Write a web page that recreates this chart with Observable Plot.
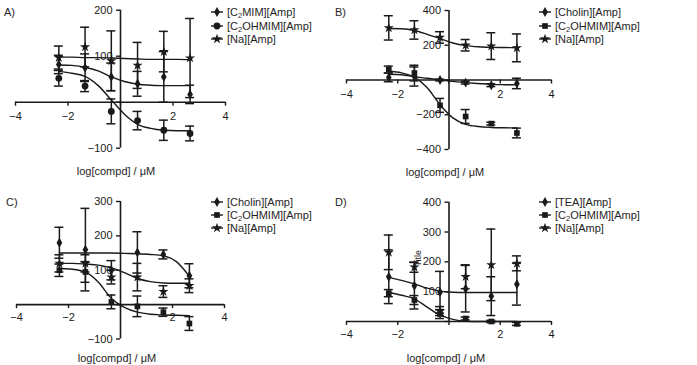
<!DOCTYPE html>
<html>
<head>
<meta charset="utf-8">
<script src="https://cdn.jsdelivr.net/npm/d3@7"></script>
<script src="https://cdn.jsdelivr.net/npm/@observablehq/plot@0.6"></script>
<style>
  html, body { margin: 0; padding: 0; background: #fff; }
  #fig { position: relative; width: 697px; height: 365px; overflow: hidden; background: #fff;
         font-family: "Liberation Sans", Arial, sans-serif; color: #1e1e1e; }
  .abs { position: absolute; white-space: nowrap; font-size: 11px; line-height: 13px; }
  .abs sub { font-size: 7.5px; line-height: 0; vertical-align: -2px; }
  svg.panel { position: absolute; overflow: visible; }
</style>
</head>
<body>
<div id="fig"></div>
<script>
// Log concentrations of the tested doses and of the points along each fitted curve
const doses = [-2.35, -1.35, -0.35, 0.65, 1.65, 2.65];
const fitX = [-2.35, -1.85, -1.35, -0.85, -0.35, 0.15, 0.65, 1.15, 1.65, 2.15, 2.65];

// Axis ticks
const xTicks = [-4, -2, 0, 2, 4];
const xTickLabels = [-4, -2, 2, 4];
const xTitle = "log[compd] / μM";

// Panel A
const namesA = ["[C2MIM][Amp]", "[C2OHMIM][Amp]", "[Na][Amp]"];
const meanA = [
  [82, 75, 55, 40, 55, 17],
  [52, 35, -20, -40, -61, -68],
  [97, 120, 90, 80, 110, 96]
];
const errA = [
  [20, 30, 30, 27, 55, 20],
  [17, 12, 27, 20, 22, 16],
  [25, 43, 65, 50, 44, 86]
];
const fitA = [
  [81, 80, 76, 68, 55, 45, 39, 37, 36, 36, 36],
  [67, 63, 56, 36, 5, -26, -48, -57, -61, -62, -62],
  [98, 98, 97, 97, 96, 95, 94, 93, 93, 93, 92]
];
const yTicksA = [-100, 0, 100, 200];
const yLabelsA = [-100, 100, 200];

// Panel B
const namesB = ["[Cholin][Amp]", "[C2OHMIM][Amp]", "[Na][Amp]"];
const meanB = [
  [15, 20, 0, -15, -30, -20],
  [60, 40, -146, -210, -251, -305],
  [300, 288, 245, 200, 195, 185]
];
const errB = [
  [25, 55, 5, 8, 8, 30],
  [20, 45, 40, 40, 8, 28],
  [70, 53, 33, 33, 77, 80]
];
const fitB = [
  [33, 30, 19, 10, 0, -8, -15, -20, -25, -27, -28],
  [50, 41, 16, -45, -142, -218, -255, -268, -273, -275, -276],
  [296, 295, 285, 263, 238, 213, 198, 191, 188, 187, 186]
];
const yTicksB = [-400, -200, 0, 200, 400];
const yLabelsB = [-400, -200, 200, 400];

// Panel C
const namesC = ["[Cholin][Amp]", "[C2OHMIM][Amp]", "[Na][Amp]"];
const meanC = [
  [180, 160, 100, 152, 146, 84],
  [100, 95, 8, -5, -22, -55],
  [120, 120, 80, 80, 38, 55]
];
const errC = [
  [45, 120, 28, 60, 13, 35],
  [18, 30, 20, 30, 12, 20],
  [25, 25, 20, 40, 17, 20]
];
const fitC = [
  [150, 150, 150, 150, 150, 149, 148, 146, 142, 125, 82],
  [105, 103, 95, 65, 18, -8, -22, -28, -30, -31, -32],
  [120, 120, 118, 115, 107, 93, 76, 67, 63, 62, 62]
];
const yTicksC = [-100, 0, 100, 200, 300];
const yLabelsC = [-100, 100, 200, 300];

// Panel D
const namesD = ["[TEA][Amp]", "[C2OHMIM][Amp]", "[Na][Amp]"];
const meanD = [
  [150, 120, 98, 110, 85, 125],
  [95, 72, 25, 10, 0, -8],
  [232, 182, 35, 150, 190, 195]
];
const errD = [
  [90, 78, 70, 78, 65, 70],
  [12, 15, 15, 5, 4, 5],
  [58, 17, 15, 40, 120, 25]
];
const fitD = [
  [148, 138, 126, 112, 102, 98, 97, 97, 97, 97, 97],
  [98, 88, 76, 48, 22, 7, 1, 0, 0, 0, 0],
  null
];
const yTicksD = [0, 100, 200, 300, 400];
const yLabelsD = [100, 200, 300, 400];
const strayD = [{x: -1.2, y: 212, label: "Title"}];

// ---------------------------------------------------------------------------
const fig = document.getElementById("fig");
const fmt = d3.format("d");
const symbolTypes = {diamond: d3.symbolDiamond, circle: d3.symbolCircle, square: d3.symbolSquare, star: d3.symbolStar};
const ink = "#1a1a1a";

function withSub(name) {
  return name.replace("C2", "C<sub>2</sub>");
}

function addText(html, left, top, anchor = "left") {
  const div = document.createElement("div");
  div.className = "abs";
  div.innerHTML = html;
  div.style.left = left + "px";
  div.style.top = top + "px";
  div.style.transform = anchor === "center" ? "translate(-50%,-50%)" : "translate(0,-50%)";
  fig.appendChild(div);
  return div;
}

function drawPanel(p) {
  const rows = [];
  p.names.forEach((name, s) => doses.forEach((x, i) => {
    const y = p.mean[s][i], e = p.err[s][i];
    rows.push({s, x, y, lo: y - e, hi: y + e});
  }));
  const fits = [];
  p.fit.forEach((vals, s) => {
    if (vals) vals.forEach((y, i) => fits.push({s, x: fitX[i], y}));
  });

  const marks = [
    // axes crossing at the origin
    Plot.ruleY([0], {x1: -4, x2: 4, stroke: ink, strokeWidth: 1.6}),
    Plot.ruleX([0], {y1: p.yDomain[0], y2: p.yDomain[1], stroke: ink, strokeWidth: 1.6}),
    Plot.ruleX(xTicks, {x: d => d, y1: 0, y2: 0, insetBottom: -4, stroke: ink, strokeWidth: 1.4}),
    Plot.ruleY(p.yTicks, {y: d => d, x1: 0, x2: 0, insetLeft: -4, stroke: ink, strokeWidth: 1.4}),
    Plot.text(xTickLabels, {x: d => d, y: 0, dy: p.xLabelDy, text: fmt, fontSize: 11, fill: ink}),
    Plot.text(p.yLabels, {x: 0, y: d => d, dx: -8, text: fmt, fontSize: 11, fill: ink, textAnchor: "end"}),
    // fitted curves
    Plot.line(fits, {x: "x", y: "y", z: "s", curve: "monotone-x", stroke: ink, strokeWidth: 1.4}),
    // error bars with caps
    Plot.ruleX(rows, {x: "x", y1: "lo", y2: "hi", stroke: ink, strokeWidth: 1.5}),
    Plot.ruleY(rows, {y: "hi", x1: "x", x2: "x", insetLeft: -4.5, insetRight: -4.5, stroke: ink, strokeWidth: 1.5}),
    Plot.ruleY(rows, {y: "lo", x1: "x", x2: "x", insetLeft: -4.5, insetRight: -4.5, stroke: ink, strokeWidth: 1.5})
  ];
  p.symbols.forEach((sym, s) => {
    marks.push(Plot.dot(rows.filter(d => d.s === s), {x: "x", y: "y", symbol: sym, r: p.r[s], fill: ink, stroke: "none"}));
  });
  if (p.stray) {
    marks.push(Plot.text(p.stray, {x: "x", y: "y", text: "label", rotate: -90, fontSize: 9, fill: ink}));
  }

  const chart = Plot.plot({
    width: p.box.w, height: p.box.h,
    marginLeft: p.margin.l, marginRight: p.margin.r, marginTop: p.margin.t, marginBottom: p.margin.b,
    x: {domain: [-4, 4], axis: null},
    y: {domain: p.yDomain, axis: null},
    style: {background: "none", overflow: "visible", fontFamily: "Liberation Sans, Arial, sans-serif"},
    marks
  });
  chart.classList.add("panel");
  chart.style.left = p.box.x + "px";
  chart.style.top = p.box.y + "px";
  chart.style.maxWidth = "none";
  fig.appendChild(chart);

  // panel letter, axis title and legend
  addText(p.letter, p.letterPos[0], p.letterPos[1]);
  addText(xTitle, p.titlePos[0], p.titlePos[1], "center");
  p.names.forEach((name, s) => {
    const y = p.legend.y[s];
    const sw = d3.create("svg").attr("width", 16).attr("height", 12)
      .style("position", "absolute")
      .style("left", (p.legend.x - 8) + "px").style("top", (y - 6) + "px");
    sw.append("line").attr("x1", 2).attr("x2", 14).attr("y1", 6).attr("y2", 6)
      .attr("stroke", ink).attr("stroke-width", 1.4);
    sw.append("path").attr("transform", "translate(8,6)")
      .attr("d", d3.symbol(symbolTypes[p.symbols[s]], Math.PI * p.r[s] * p.r[s])())
      .attr("fill", ink);
    fig.appendChild(sw.node());
    addText(withSub(name), p.legend.x + 10, y);
  });
}

drawPanel({
  letter: "A)", letterPos: [4, 12], titlePos: [116, 171],
  names: namesA, mean: meanA, err: errA, fit: fitA,
  symbols: ["diamond", "circle", "star"], r: [3, 3.4, 3.2],
  yDomain: [-100, 200], yTicks: yTicksA, yLabels: yLabelsA, xLabelDy: 14,
  box: {x: 0, y: 0, w: 340, h: 182}, margin: {l: 15, r: 115, t: 9.7, b: 34.3},
  legend: {x: 217, y: [12, 25.5, 39]}
});
drawPanel({
  letter: "B)", letterPos: [335, 12], titlePos: [445, 172],
  names: namesB, mean: meanB, err: errB, fit: fitB,
  symbols: ["diamond", "square", "star"], r: [3, 3.2, 3.2],
  yDomain: [-400, 400], yTicks: yTicksB, yLabels: yLabelsB, xLabelDy: 14.5,
  box: {x: 340, y: 0, w: 357, h: 182}, margin: {l: 6, r: 146, t: 10, b: 33},
  legend: {x: 545, y: [12, 25.5, 39]}
});
drawPanel({
  letter: "C)", letterPos: [6, 202], titlePos: [117, 358],
  names: namesC, mean: meanC, err: errC, fit: fitC,
  symbols: ["diamond", "square", "star"], r: [3, 3.2, 3.2],
  yDomain: [-100, 300], yTicks: yTicksC, yLabels: yLabelsC, xLabelDy: 12.5,
  box: {x: 0, y: 182, w: 340, h: 183}, margin: {l: 16, r: 116, t: 19, b: 26.5},
  legend: {x: 217, y: [202, 215, 228]}
});
drawPanel({
  letter: "D)", letterPos: [335, 202], titlePos: [446, 358],
  names: namesD, mean: meanD, err: errD, fit: fitD, stray: strayD,
  symbols: ["diamond", "square", "star"], r: [3, 3.2, 3.2],
  yDomain: [0, 400], yTicks: yTicksD, yLabels: yLabelsD, xLabelDy: 13,
  box: {x: 340, y: 182, w: 357, h: 183}, margin: {l: 6, r: 146, t: 19.7, b: 44},
  legend: {x: 545, y: [202, 215, 228]}
});
</script>
</body>
</html>
